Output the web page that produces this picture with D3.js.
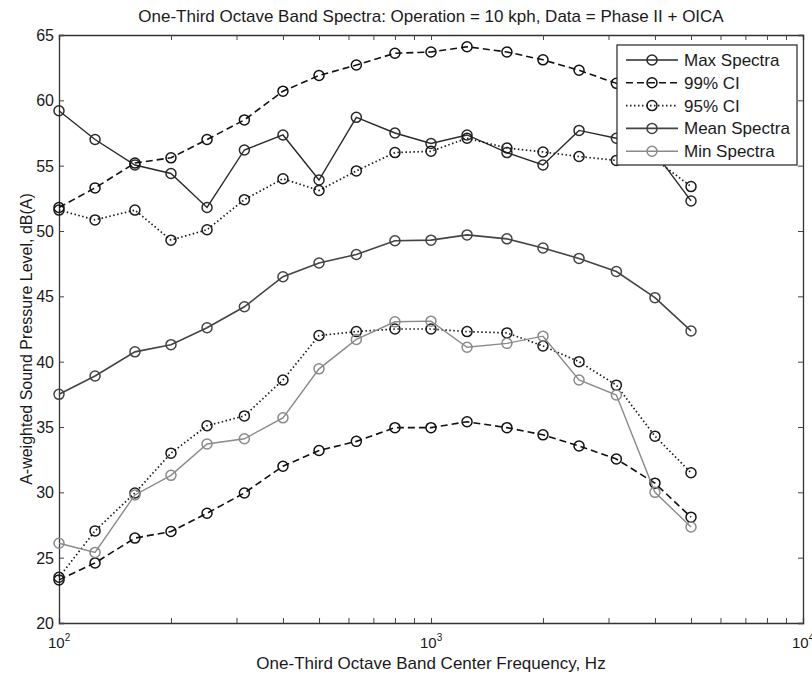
<!DOCTYPE html>
<html>
<head>
<meta charset="utf-8">
<script src="https://cdn.jsdelivr.net/npm/d3@7"></script>
<style>
  body { margin: 0; background: #fff; }
  text { font-family: "Liberation Sans", Arial, sans-serif; fill: #1a1a1a; }
</style>
</head>
<body>
<script>
// one-third octave band centre frequencies, Hz
const freqs = [100, 125, 160, 200, 250, 315, 400, 500, 630, 800, 1000, 1250, 1600, 2000, 2500, 3150, 4000, 5000];

const maxSpectra = [59.2, 57.0, 55.05, 54.4, 51.8, 56.2, 57.35, 53.9, 58.7, 57.5, 56.7, 57.35, 56.0, 55.05, 57.7, 57.1, 56.0, 52.3];
const ci99Upper = [51.8, 53.3, 55.2, 55.6, 57.0, 58.5, 60.7, 61.9, 62.7, 63.6, 63.7, 64.1, 63.7, 63.1, 62.3, 61.3, 59.3, 56.8];
const ci99Lower = [23.3, 24.6, 26.5, 27.0, 28.4, 29.95, 32.0, 33.2, 33.9, 34.95, 34.95, 35.4, 34.95, 34.4, 33.55, 32.55, 30.7, 28.1];
const ci95Upper = [51.6, 50.85, 51.6, 49.3, 50.1, 52.4, 54.0, 53.1, 54.6, 56.0, 56.1, 57.1, 56.35, 56.05, 55.7, 55.4, 55.5, 53.4];
const ci95Lower = [23.5, 27.05, 29.95, 33.0, 35.1, 35.85, 38.6, 42.0, 42.3, 42.5, 42.5, 42.3, 42.2, 41.2, 40.0, 38.2, 34.3, 31.5];
const meanSpectra = [37.5, 38.9, 40.75, 41.3, 42.6, 44.2, 46.5, 47.55, 48.2, 49.25, 49.3, 49.7, 49.4, 48.7, 47.9, 46.9, 44.9, 42.35];
const minSpectra = [26.1, 25.4, 29.8, 31.3, 33.7, 34.1, 35.7, 39.45, 41.7, 43.05, 43.1, 41.1, 41.4, 41.95, 38.6, 37.45, 30.0, 27.35];

const yTicks = [20, 25, 30, 35, 40, 45, 50, 55, 60, 65];
const xMajor = [100, 1000, 10000];
const xMajorLabels = ["2", "3", "4"];

const legendNames = ["Max Spectra", "99% CI", "95% CI", "Mean Spectra", "Min Spectra"];

const width = 812, height = 677;
const margin = { top: 35, right: 9, bottom: 54, left: 59 };

const svg = d3.select("body").append("svg")
  .attr("width", width)
  .attr("height", height);

const x = d3.scaleLog().domain([100, 10000]).range([margin.left, width - margin.right]);
const y = d3.scaleLinear().domain([20, 65]).range([height - margin.bottom, margin.top]);

// series styles, leg = row in the legend
const series = [
  { v: maxSpectra, c: "#2a2a2a", dash: null, w: 1.4, leg: 0 },
  { v: ci99Upper, c: "#111", dash: "7,4", w: 1.6, leg: 1 },
  { v: ci99Lower, c: "#111", dash: "7,4", w: 1.6, leg: null },
  { v: ci95Upper, c: "#1a1a1a", dash: "1.5,2.5", w: 1.7, leg: 2 },
  { v: ci95Lower, c: "#1a1a1a", dash: "1.5,2.5", w: 1.7, leg: null },
  { v: meanSpectra, c: "#444", dash: null, w: 1.6, leg: 3 },
  { v: minSpectra, c: "#8a8a8a", dash: null, w: 1.4, leg: 4 }
];

const line = d3.line()
  .x((d, i) => x(freqs[i]))
  .y(d => y(d));

// axes box with inward ticks
const minor = d3.range(2, 10).map(k => k * 100).concat(d3.range(2, 10).map(k => k * 1000));
const xAxisB = d3.axisBottom(x).tickValues(minor.concat(xMajor)).tickSize(-5).tickFormat("");
const xAxisT = d3.axisTop(x).tickValues(minor.concat(xMajor)).tickSize(-5).tickFormat("");
const yAxisL = d3.axisLeft(y).tickValues(yTicks).tickSize(-5).tickFormat("");
const yAxisR = d3.axisRight(y).tickValues(yTicks).tickSize(-5).tickFormat("");

const axStyle = g => {
  g.select(".domain").attr("stroke", "#333").attr("stroke-width", 1.3);
  g.selectAll(".tick line").attr("stroke", "#444");
};
svg.append("g").attr("transform", `translate(0,${y(20)})`).call(xAxisB).call(axStyle);
svg.append("g").attr("transform", `translate(0,${y(65)})`).call(xAxisT).call(axStyle);
svg.append("g").attr("transform", `translate(${x(100)},0)`).call(yAxisL).call(axStyle);
svg.append("g").attr("transform", `translate(${x(10000)},0)`).call(yAxisR).call(axStyle);

// tick labels
svg.append("g").selectAll("text").data(yTicks).join("text")
  .attr("x", x(100) - 5)
  .attr("y", d => y(d) + 6)
  .attr("text-anchor", "end")
  .attr("font-size", 16)
  .text(d => d);

const xl = svg.append("g").selectAll("text").data(xMajor).join("text")
  .attr("x", d => x(d) - 11)
  .attr("y", y(20) + 25)
  .attr("font-size", 15);
xl.append("tspan").text("10");
xl.append("tspan").attr("dy", -7).attr("font-size", 10).text((d, i) => xMajorLabels[i]);

// lines and markers
series.forEach(s => {
  svg.append("path")
    .datum(s.v)
    .attr("fill", "none")
    .attr("stroke", s.c)
    .attr("stroke-width", s.w)
    .attr("stroke-dasharray", s.dash)
    .attr("d", line);
  svg.append("g").selectAll("circle").data(s.v).join("circle")
    .attr("cx", (d, i) => x(freqs[i]))
    .attr("cy", d => y(d))
    .attr("r", 5)
    .attr("fill", "none")
    .attr("stroke", s.c)
    .attr("stroke-width", 1.5);
});

// legend
const lg = svg.append("g").attr("transform", "translate(617,45)");
lg.append("rect").attr("width", 180).attr("height", 120)
  .attr("fill", "#fff").attr("stroke", "#333").attr("stroke-width", 1.3);
series.filter(s => s.leg !== null).forEach(s => {
  const ry = 15 + s.leg * 22.8;
  lg.append("line").attr("x1", 9).attr("x2", 61).attr("y1", ry).attr("y2", ry)
    .attr("stroke", s.c).attr("stroke-width", s.w).attr("stroke-dasharray", s.dash);
  lg.append("circle").attr("cx", 35).attr("cy", ry).attr("r", 5)
    .attr("fill", "none").attr("stroke", s.c).attr("stroke-width", 1.5);
  lg.append("text").attr("x", 67).attr("y", ry + 6).attr("font-size", 17)
    .text(legendNames[s.leg]);
});

// title and axis labels
svg.append("text").attr("x", 431).attr("y", 22).attr("text-anchor", "middle")
  .attr("font-size", 17).text("One-Third Octave Band Spectra: Operation = 10 kph, Data = Phase II + OICA");
svg.append("text").attr("x", 431).attr("y", 669).attr("text-anchor", "middle")
  .attr("font-size", 17).text("One-Third Octave Band Center Frequency, Hz");
svg.append("text").attr("transform", `translate(32,339) rotate(-90)`)
  .attr("text-anchor", "middle").attr("font-size", 16)
  .text("A-weighted Sound Pressure Level, dB(A)");
</script>
</body>
</html>
